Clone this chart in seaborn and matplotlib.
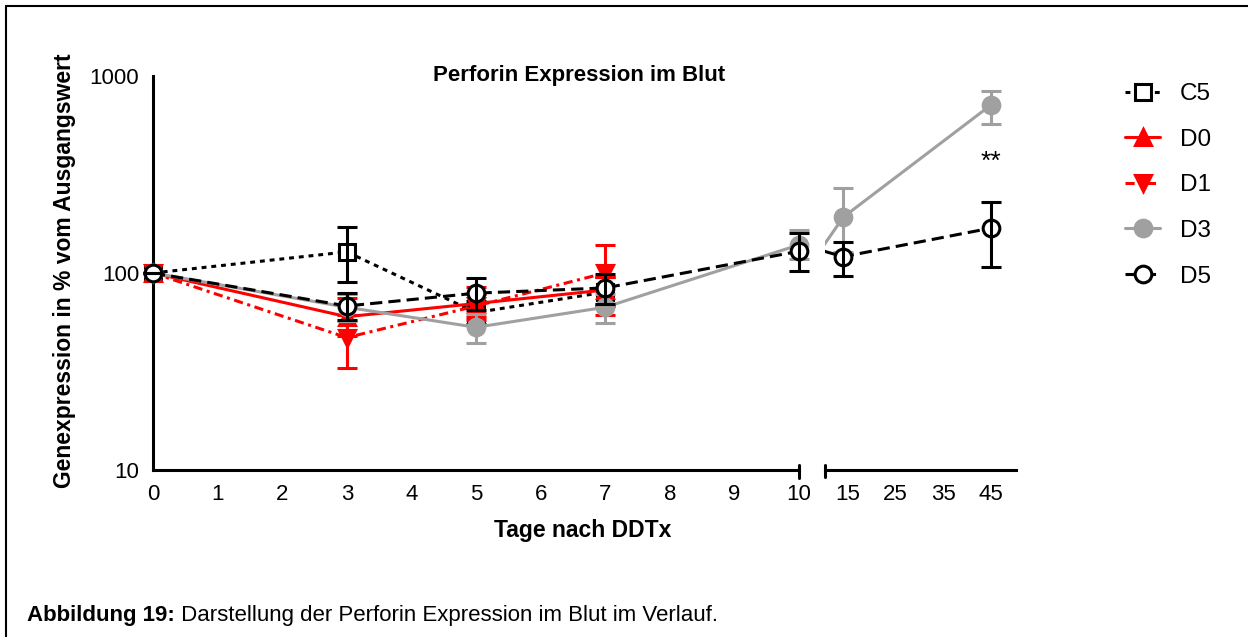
import numpy as np
import pandas as pd
import matplotlib
matplotlib.use('Agg')
import matplotlib.pyplot as plt
from matplotlib.lines import Line2D
import seaborn as sns

# values (percent of baseline)
c5_days = [0, 3, 5, 7]
c5_mean = [100, 128, 63, 80]
c5_lo = [100, 90, 55, 68]
c5_hi = [100, 171, 72, 95]

d0_days = [0, 3, 5, 7]
d0_mean = [100, 60, 70, 82]
d0_lo = [100, 48, 60, 70]
d0_hi = [100, 75, 85, 95]

d1_days = [0, 3, 5, 7]
d1_mean = [100, 47, 68, 100]
d1_lo = [100, 33, 58, 61]
d1_hi = [100, 61, 78, 139]

d3_days = [0, 3, 5, 7, 10, 14, 45]
d3_mean = [100, 67, 53, 67, 139, 192, 713]
d3_lo = [100, 57, 44, 56, 118, 128, 570]
d3_hi = [100, 78, 62, 78, 165, 270, 839]

d5_days = [0, 3, 5, 7, 10, 14, 45]
d5_mean = [100, 68, 79, 84, 129, 121, 169]
d5_lo = [100, 58, 65, 70, 102, 96, 107]
d5_hi = [100, 79, 94, 99, 160, 143, 229]

left_ticks = list(range(0, 11))
right_ticks = [15, 25, 35, 45]
y_ticks = [10, 100, 1000]

sns.set_style('white')
plt.rcParams['font.family'] = ['Liberation Sans', 'DejaVu Sans']
plt.rcParams.update({'text.color': 'black', 'axes.labelcolor': 'black',
                     'xtick.color': 'black', 'ytick.color': 'black',
                     'axes.edgecolor': 'black'})

GRAY = '#a0a0a0'
series = [
    ('C5', c5_days, c5_mean, c5_lo, c5_hi, 'black', 's', 'white', (0, (1.6, 1.6))),
    ('D0', d0_days, d0_mean, d0_lo, d0_hi, 'red', '^', 'red', '-'),
    ('D1', d1_days, d1_mean, d1_lo, d1_hi, 'red', 'v', 'red', (0, (3, 1.5, 1, 1.5))),
    ('D3', d3_days, d3_mean, d3_lo, d3_hi, GRAY, 'o', GRAY, '-'),
    ('D5', d5_days, d5_mean, d5_lo, d5_hi, 'black', 'o', 'white', (0, (4, 2))),
]

fig = plt.figure(figsize=(12.48, 6.37), dpi=100)
ax1 = fig.add_axes([153 / 1248, 1 - 470 / 637, 646 / 1248, 394 / 637])
ax2 = fig.add_axes([825 / 1248, 1 - 470 / 637, 191 / 1248, 394 / 637])

LW = 2.2
MS = 12
handles = []
for i, (name, days, mean, lo, hi, col, mk, fc, ls) in enumerate(series):
    df = pd.DataFrame({'day': days, 'val': mean, 'lo': lo, 'hi': hi})
    style = dict(color=col, linestyle=ls, linewidth=LW, marker=mk, markersize=MS,
                 markerfacecolor=fc, markeredgecolor=col, markeredgewidth=LW, zorder=3 + i)

    # left segment, days 0-10
    left = df[df.day <= 10]
    sns.lineplot(data=left, x='day', y='val', ax=ax1, clip_on=False, **style)
    ax1.errorbar(left.day, left.val, yerr=[left.val - left.lo, left.hi - left.val],
                 fmt='none', ecolor=col, elinewidth=LW, capsize=7, capthick=LW,
                 zorder=3 + i, clip_on=False)

    # right segment, line starts from day 10 but only later days get markers
    right = df[df.day >= 10].reset_index(drop=True)
    if len(right) > 1:
        shown = right[right.day > 10]
        sns.lineplot(data=right, x='day', y='val', ax=ax2, clip_on=True,
                     markevery=list(shown.index), **style)
        ax2.errorbar(shown.day, shown.val, yerr=[shown.val - shown.lo, shown.hi - shown.val],
                     fmt='none', ecolor=col, elinewidth=LW, capsize=7, capthick=LW,
                     zorder=3 + i, clip_on=False)

    handles.append(Line2D([], [], **style))

for ax in (ax1, ax2):
    ax.set_yscale('log')
    ax.set_ylim(10, 1000)
    ax.set_xlabel('')
    ax.set_ylabel('')
    ax.minorticks_off()
    for s in ('top', 'right'):
        ax.spines[s].set_visible(False)
    ax.spines['bottom'].set_linewidth(LW)
    ax.spines['left'].set_linewidth(LW)
    ax.tick_params(axis='both', length=7, width=LW, labelsize=16, pad=3)
    ax.patch.set_alpha(0)

ax1.set_xlim(0, 10)
ax1.set_xticks(left_ticks)
ax1.set_yticks(y_ticks)
ax1.set_yticklabels([str(v) for v in y_ticks])
ax1.yaxis.set_minor_locator(matplotlib.ticker.NullLocator())

ax2.set_xlim(10.18, 50.24)
ax2.set_xticks(right_ticks)
ax2.spines['left'].set_visible(False)
ax2.tick_params(axis='y', left=False, labelleft=False)
ax2.yaxis.set_minor_locator(matplotlib.ticker.NullLocator())

# break marks
ax1.plot([1, 1], [-0.02, 0.012], transform=ax1.transAxes, color='black', lw=LW, clip_on=False)
ax2.plot([0, 0], [-0.018, 0.012], transform=ax2.transAxes, color='black', lw=LW, clip_on=False)

ax2.text(45, 366, '**', ha='center', va='center', fontsize=19)

fig.text(579 / 1248, 1 - 76 / 637, 'Perforin Expression im Blut', ha='center', va='center',
         fontsize=16, weight='bold')
fig.text(65 / 1248, 1 - 271 / 637, 'Genexpression in % vom Ausgangswert', rotation=90,
         ha='center', va='center', fontsize=16.5, weight='bold')
fig.text(583 / 1248, 1 - 531 / 637, 'Tage nach DDTx', ha='center', va='center',
         fontsize=16.5, weight='bold')

fig.legend(handles, [s[0] for s in series], loc='upper left',
           bbox_to_anchor=(1113 / 1248, 1 - 71 / 637), frameon=False, fontsize=17.5,
           handlelength=1.45, handletextpad=0.8, labelspacing=0.97, borderpad=0)

cap = fig.text(27 / 1248, 1 - 616 / 637, 'Abbildung 19:', ha='left', va='center',
               fontsize=16, weight='bold')
ax1.annotate(' Darstellung der Perforin Expression im Blut im Verlauf.', xy=(1, 0.5),
             xycoords=cap, ha='left', va='center', fontsize=16, annotation_clip=False)

# frame around the figure block
fig.add_artist(Line2D([6 / 1248, 6 / 1248], [0, 1 - 6 / 637], color='black', lw=1.5))
fig.add_artist(Line2D([6 / 1248, 1], [1 - 6 / 637, 1 - 6 / 637], color='black', lw=1.5))

plt.savefig('out.png', dpi=100)
